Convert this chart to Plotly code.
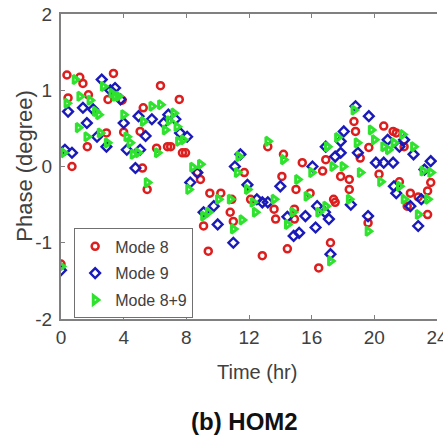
import plotly.graph_objects as go

# Mode 8 (red circles)
mode8_t = [0.0, 0.38, 0.45, 0.7, 1.2, 1.4, 1.68, 1.75, 2.9, 3.0, 3.35, 3.9, 4.0, 5.05, 5.2, 5.25, 5.5,
           6.1, 6.35, 6.8, 7.0, 7.55, 7.75, 7.95, 8.7, 8.9, 9.1, 9.4, 9.5, 10.2, 10.8, 10.9, 11.0, 11.7,
           12.1, 12.85, 13.2, 13.6, 13.7, 14.1, 14.2, 14.45, 14.9, 14.9, 15.0, 15.4, 15.9, 16.45, 16.7,
           16.9, 17.2, 17.4, 17.5, 17.85, 18.4, 18.4, 18.7, 18.8, 19.1, 19.6, 19.65, 20.3, 20.6, 21.2,
           21.4, 21.6, 21.9, 22.1, 22.3, 22.8, 23.4, 23.4, 23.6]
mode8_p = [-1.28, 1.20, 0.90, 0.0, 1.17, 1.09, 0.26, 0.94, 0.44, 0.88, 1.22, 0.87, 0.45, 0.46, -0.02, 0.77, -0.30,
           0.24, 1.06, 0.26, 0.26, 0.88, 0.18, 0.18, -0.08, -0.17, -0.78, -1.11, -0.35, -0.35, -0.60, -0.43, -0.72, -0.08,
           -0.43, -1.17, 0.26, -0.56, -0.69, -0.13, 0.16, -1.08, -0.56, -0.69, -0.30, 0.05, -0.35, -1.33, -0.06,
           0.09, -1.00, -0.43, -0.47, -0.13, -0.17, -0.30, 0.59, 0.46, 0.11, -0.74, 0.25, -0.10, 0.53, 0.46,
           0.44, -0.20, 0.26, -0.52, -0.35, -0.40, -0.32, -0.63, -0.21]

# Mode 9 (blue diamonds)
mode9_t = [0.0, 0.25, 0.45, 0.7, 1.4, 1.65, 2.05, 2.3, 2.6, 2.9, 3.15, 3.45, 3.8, 4.0, 4.2, 4.75, 4.95, 5.05,
           5.4, 5.8, 6.55, 6.85, 7.3, 7.6, 8.05, 8.25, 8.7, 9.1, 9.75, 10.0, 11.0, 11.1, 11.45, 11.9, 12.5,
           12.85, 13.2, 14.0, 14.45, 14.85, 15.2, 15.6, 16.05, 16.25, 16.35, 16.85, 16.9, 17.1, 17.2, 17.5,
           17.85, 17.85, 18.05, 18.5, 18.8, 18.95, 19.6, 19.65, 20.1, 20.6, 20.85, 21.2, 21.25, 21.4, 21.6,
           21.9, 22.3, 22.5, 22.8, 23.0, 23.2, 23.6]
mode9_p = [-1.36, 0.22, 0.72, 0.18, 0.77, 0.57, 0.75, 0.39, 1.14, 0.26, 1.00, 1.03, 0.88, 0.57, 0.22, -0.02, 0.66, 0.22,
           0.40, 0.62, 0.57, 0.68, 0.62, 0.44, 0.39, -0.21, -0.08, -0.60, -0.52, -0.76, -1.00, 0.0, 0.16, -0.24, -0.43,
           -0.47, -0.47, -0.26, -0.66, -0.91, -0.87, -0.65, 0.0, -0.80, -0.52, -0.60, 0.26, -0.69, -1.15, 0.13,
           0.18, 0.33, 0.46, -0.50, 0.79, 0.18, -0.65, 0.66, 0.05, 0.05, 0.35, 0.05, -0.26, -0.35, 0.26,
           0.35, -0.52, 0.16, -0.78, -0.43, -0.04, 0.07]

# Mode 8+9 (green right triangles)
mode89_t = [0.0, 0.15, 0.38, 0.9, 1.1, 1.2, 1.65, 1.85, 2.2, 2.4, 2.5, 2.7, 2.95, 3.25, 3.45, 3.65, 4.0, 4.2,
            4.4, 4.6, 4.9, 5.25, 5.5, 5.8, 6.15, 6.35, 6.65, 6.9, 7.2, 7.4, 7.5, 7.8, 8.15, 8.4, 8.9, 9.1,
            9.4, 10.05, 10.8, 11.0, 11.25, 11.35, 11.55, 11.9, 12.25, 12.4, 13.2, 13.6, 14.2, 14.45, 14.8,
            15.1, 15.7, 16.0, 16.45, 16.9, 17.0, 17.2, 17.35, 17.65, 18.0, 18.4, 18.7, 18.9, 19.1, 19.6,
            19.8, 20.0, 20.4, 20.6, 20.9, 21.25, 21.6, 21.8, 21.9, 22.5, 22.8, 23.1, 23.4, 23.6]
mode89_p = [-1.31, 0.18, 0.83, 1.14, 0.51, 0.92, 0.39, 0.87, 0.72, 0.68, 0.44, 1.05, 0.31, 0.96, 0.92, 0.92, 0.68, 0.39,
            0.31, 0.16, 0.18, 0.59, -0.21, 0.79, 0.18, 0.81, 0.48, 0.60, 0.70, 0.52, 0.33, 0.35, -0.30, -0.01, 0.03, -0.65,
            -0.60, -0.43, -0.43, -0.82, -0.08, 0.13, -0.70, -0.30, -0.47, -0.60, 0.33, -0.43, 0.09, -0.76, -0.60,
            -0.17, -0.39, -0.08, -0.60, -0.52, 0.26, -1.24, 0.0, 0.38, 0.0, -0.43, 0.74, 0.31, -0.08, -0.85,
            0.48, 0.35, -0.20, 0.26, 0.22, 0.31, -0.26, 0.42, -0.43, 0.26, -0.63, -0.06, -0.43, -0.08]

x_ticks = [0, 4, 8, 12, 16, 20, 24]
y_ticks = [-2, -1, 0, 1, 2]

FONT = "Arial, Liberation Sans, Helvetica, sans-serif"
GRAY = "#404040"

fig = go.Figure()
fig.add_trace(go.Scatter(x=mode8_t, y=mode8_p, mode="markers", name="Mode 8",
                         marker=dict(symbol="circle-open", size=7, color="#dc1e1e",
                                     line=dict(width=2.5, color="#dc1e1e"))))
fig.add_trace(go.Scatter(x=mode9_t, y=mode9_p, mode="markers", name="Mode 9",
                         marker=dict(symbol="diamond-open", size=7.5, color="#1a1ab9",
                                     line=dict(width=2.4, color="#1a1ab9"))))
fig.add_trace(go.Scatter(x=mode89_t, y=mode89_p, mode="markers", name="Mode 8+9",
                         marker=dict(symbol="triangle-right-open", size=7.5, color="#2ee22e",
                                     line=dict(width=3, color="#2ee22e"))))

fig.update_layout(
    template="none",
    width=443, height=440,
    margin=dict(l=61, r=6, t=14, b=121, autoexpand=False),
    paper_bgcolor="white", plot_bgcolor="white",
    font=dict(family=FONT, color=GRAY, size=18),
    showlegend=True,
    legend=dict(x=0.035, y=0.297, xanchor="left", yanchor="top",
                bordercolor="#707070", borderwidth=1, bgcolor="white",
                font=dict(size=16, color=GRAY), itemwidth=30,
                tracegroupgap=3),
    xaxis=dict(range=[0, 24], tickvals=x_ticks, ticktext=[str(v) for v in x_ticks],
               ticks="inside", ticklen=4, tickcolor="#808080", tickwidth=1,
               showline=True, linecolor="#808080", linewidth=2, mirror="ticks",
               showgrid=False, zeroline=False, automargin=False,
               ticklabeloverflow="allow",
               tickfont=dict(size=19, color=GRAY)),
    yaxis=dict(range=[-2, 2], tickvals=y_ticks, ticktext=[str(v) for v in y_ticks],
               ticks="inside", ticklen=4, tickcolor="#808080", tickwidth=1,
               showline=True, linecolor="#808080", linewidth=2, mirror=False,
               showgrid=False, zeroline=False, automargin=False,
               tickfont=dict(size=19, color=GRAY), ticklabelstandoff=3),
    annotations=[
        dict(text="Time (hr)", xref="paper", yref="paper", x=0.52, y=-0.173,
             xanchor="center", yanchor="middle", showarrow=False,
             font=dict(size=20, color=GRAY, family=FONT)),
        dict(text="Phase (degree)", xref="paper", yref="paper", x=-0.098, y=0.503,
             xanchor="center", yanchor="middle", showarrow=False, textangle=-90,
             font=dict(size=22, color=GRAY, family=FONT)),
        dict(text="<b>(b) HOM2</b>", xref="paper", yref="paper", x=0.487, y=-0.337,
             xanchor="center", yanchor="middle", showarrow=False,
             font=dict(size=24, color="#111111", family=FONT)),
    ],
)

for i, tr in enumerate(fig.data):
    tr.legendgroup = f"g{i}"

fig.write_html("out.html", config={"displayModeBar": False},
               post_script="document.body.style.margin='0';document.body.style.padding='0';")
